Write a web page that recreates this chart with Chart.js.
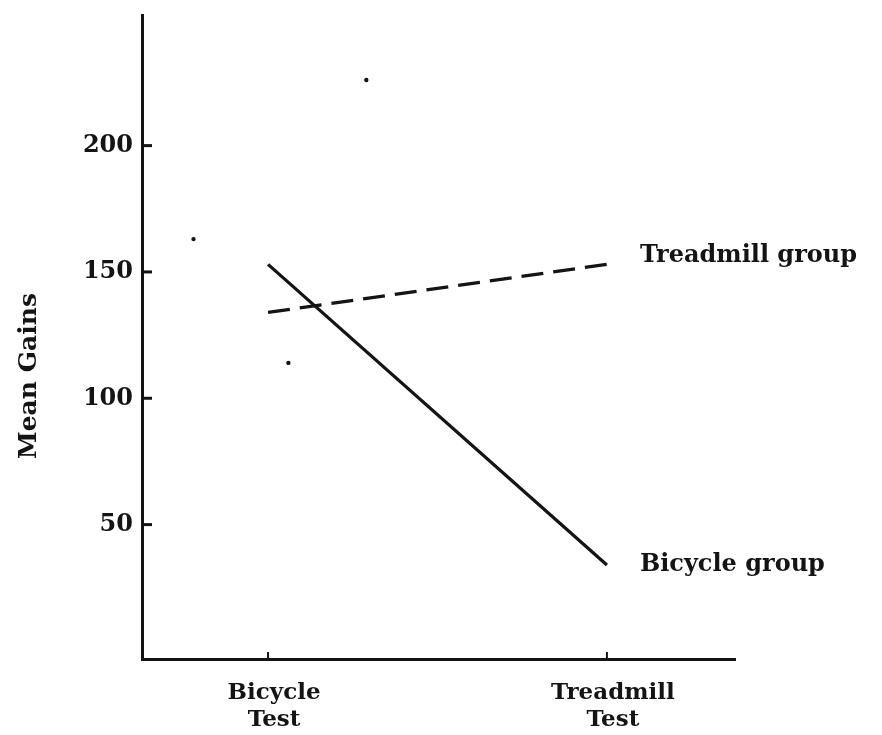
<!DOCTYPE html>
<html>
<head>
<meta charset="utf-8">
<script src="https://cdn.jsdelivr.net/npm/chart.js@4.4.1/dist/chart.umd.min.js"></script>
<style>
  html, body { margin: 0; padding: 0; background: #fff; }
  #wrap { width: 882px; height: 735px; }
</style>
</head>
<body>
<div id="wrap"><canvas id="c" width="882" height="735"></canvas></div>
<script>
// ---- data ----
const categories = [["Bicycle", "Test"], ["Treadmill", "Test"]];
const categoryPos = [0, 1];
const yTickValues = [50, 100, 150, 200];
const bicycleGroup = [153, 34];
const treadmillGroup = [134, 153];
const seriesNames = ["Bicycle group", "Treadmill group"];
const specksX = [-0.22, 0.29, 0.06];
const specksY = [163, 226, 114];
const yTitle = "Mean Gains";

const INK = "#141414";
const FONT = "'DejaVu Serif', 'Liberation Serif', serif";

const seriesLabelPlugin = {
  id: "seriesLabels",
  afterDatasetsDraw(chart) {
    const { ctx, chartArea } = chart;
    const xs = chart.scales.x, ys = chart.scales.y;
    ctx.save();
    // inner tick marks
    ctx.strokeStyle = INK;
    ctx.lineWidth = 3;
    yTickValues.forEach(v => {
      const py = ys.getPixelForValue(v);
      ctx.beginPath();
      ctx.moveTo(chartArea.left, py);
      ctx.lineTo(chartArea.left + 10, py);
      ctx.stroke();
    });
    ctx.lineWidth = 2;
    categoryPos.forEach(v => {
      const px = xs.getPixelForValue(v);
      ctx.beginPath();
      ctx.moveTo(px, chartArea.bottom);
      ctx.lineTo(px, chartArea.bottom - 7);
      ctx.stroke();
    });
    // series labels at line ends
    ctx.fillStyle = INK;
    ctx.font = "bold 24px " + FONT;
    ctx.textAlign = "left";
    ctx.textBaseline = "middle";
    const offs = [0, -9];
    [0, 1].forEach(i => {
      const meta = chart.getDatasetMeta(i);
      const last = meta.data[meta.data.length - 1];
      ctx.fillText(chart.data.datasets[i].label, last.x + 33, last.y + offs[i]);
    });
    // y title
    ctx.font = "bold 25px " + FONT;
    ctx.translate(29, 376);
    ctx.rotate(-Math.PI / 2);
    ctx.textAlign = "center";
    ctx.fillText(yTitle, 0, 0);
    ctx.restore();
  }
};

new Chart(document.getElementById("c"), {
  type: "scatter",
  data: {
    datasets: [
      {
        label: seriesNames[0],
        data: categoryPos.map((x, i) => ({ x, y: bicycleGroup[i] })),
        showLine: true,
        borderColor: INK,
        borderWidth: 3.3,
        pointRadius: 0,
        tension: 0
      },
      {
        label: seriesNames[1],
        data: categoryPos.map((x, i) => ({ x, y: treadmillGroup[i] })),
        showLine: true,
        borderColor: INK,
        borderWidth: 3.3,
        borderDash: [22, 10],
        pointRadius: 0,
        tension: 0
      },
      {
        label: "specks",
        data: specksX.map((x, i) => ({ x, y: specksY[i] })),
        showLine: false,
        pointRadius: 2.2,
        pointBackgroundColor: INK,
        pointBorderWidth: 0
      }
    ]
  },
  options: {
    responsive: false,
    animation: false,
    layout: { padding: { top: 15, right: 147, left: 0, bottom: 0 } },
    plugins: { legend: { display: false }, tooltip: { enabled: false } },
    scales: {
      x: {
        type: "linear",
        min: -0.372,
        max: 1.378,
        afterFit(s) { s.height = 76; s.paddingLeft = 0; s.paddingRight = 0; },
        afterBuildTicks(s) { s.ticks = categoryPos.map(v => ({ value: v })); },
        grid: { display: false, drawTicks: false },
        border: { display: true, width: 3, color: INK },
        ticks: {
          padding: 20,
          labelOffset: 6,
          color: INK,
          font: { family: FONT, size: 23, weight: "bold", lineHeight: 1.2 },
          callback: (v) => { const i = categoryPos.indexOf(v); return i >= 0 ? categories[i] : ""; },
          maxRotation: 0
        }
      },
      y: {
        min: -3.2,
        max: 251.7,
        afterFit(s) { s.width = 142; s.paddingTop = 0; s.paddingBottom = 0; },
        afterBuildTicks(s) { s.ticks = yTickValues.map(v => ({ value: v })); },
        grid: { display: false, drawTicks: false },
        border: { display: true, width: 3, color: INK },
        ticks: {
          padding: 9,
          color: INK,
          font: { family: FONT, size: 24, weight: "bold" }
        }
      }
    }
  },
  plugins: [seriesLabelPlugin]
});
</script>
</body>
</html>
